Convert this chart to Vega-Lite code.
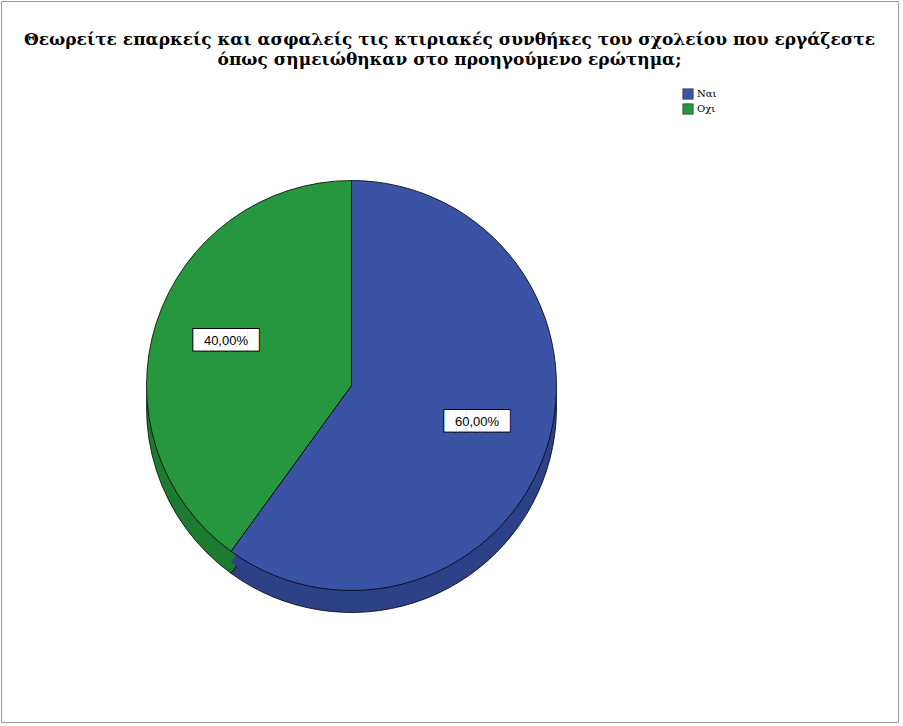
{
  "$schema": "https://vega.github.io/schema/vega-lite/v6.json",
  "autosize": {"type": "fit", "contains": "padding"},
  "width": 903,
  "height": 726,
  "padding": {"left": 1, "top": 1, "right": 5, "bottom": 4},
  "background": "white",
  "view": {"stroke": "#9a9a9a", "strokeWidth": 1, "fill": "white"},
  "config": {"view": {"stroke": "#9a9a9a", "strokeWidth": 1}},
  "title": {
    "text": ["Θεωρείτε επαρκείς και ασφαλείς τις κτιριακές συνθήκες του σχολείου που εργάζεστε", "όπως σημειώθηκαν στο προηγούμενο ερώτημα;"],
    "font": "DejaVu Serif",
    "fontSize": 17,
    "fontWeight": "bold",
    "color": "black",
    "anchor": "middle",
    "frame": "group",
    "lineHeight": 20,
    "offset": -68
  },
  "data": {
    "values": [
      {"category": "Ναι", "ord": 1, "value": 60, "label": "60,00%", "box": "██████"},
      {"category": "Οχι", "ord": 2, "value": 40, "label": "40,00%", "box": "██████"}
    ]
  },
  "encoding": {
    "theta": {"field": "value", "type": "quantitative", "stack": true},
    "order": {"field": "ord", "type": "quantitative"}
  },
  "layer": [
    {
      "mark": {"type": "arc", "outerRadius": 205, "xOffset": -98, "yOffset": 46, "stroke": "black", "strokeWidth": 0.8},
      "encoding": {
        "fill": {"field": "category", "type": "nominal", "scale": {"domain": ["Ναι", "Οχι"], "range": ["#2c4188", "#1c7a31"]}, "legend": null}
      }
    },
    {
      "mark": {"type": "arc", "outerRadius": 205, "xOffset": -98, "yOffset": 35},
      "encoding": {
        "fill": {"field": "category", "type": "nominal", "scale": {"domain": ["Ναι", "Οχι"], "range": ["#2c4188", "#1c7a31"]}, "legend": null}
      }
    },
    {
      "mark": {"type": "arc", "outerRadius": 205, "xOffset": -98, "yOffset": 24, "stroke": "black", "strokeWidth": 0.8},
      "encoding": {
        "color": {
          "field": "category", "type": "nominal",
          "scale": {"domain": ["Ναι", "Οχι"], "range": ["#3a53a4", "#26963f"]},
          "legend": {
            "title": null, "orient": "none", "legendX": 681, "legendY": 87,
            "symbolType": "square", "symbolSize": 110, "symbolStrokeColor": "#333", "symbolStrokeWidth": 0.6,
            "labelFont": "DejaVu Serif", "labelFontSize": 10, "labelColor": "black", "rowPadding": 1, "labelOffset": 3
          }
        }
      }
    },
    {
      "mark": {"type": "text", "radius": 132, "xOffset": -98, "yOffset": 20, "font": "DejaVu Sans Mono", "fontSize": 18, "fill": "white", "stroke": "black", "strokeWidth": 2, "baseline": "middle", "align": "center"},
      "encoding": {"text": {"field": "box"}}
    },
    {
      "mark": {"type": "text", "radius": 132, "xOffset": -98, "yOffset": 20, "font": "DejaVu Sans Mono", "fontSize": 18, "fill": "white", "baseline": "middle", "align": "center"},
      "encoding": {"text": {"field": "box"}}
    },
    {
      "mark": {"type": "text", "radius": 132, "xOffset": -98, "yOffset": 20, "font": "Liberation Sans", "fontSize": 13, "fill": "black", "baseline": "middle", "align": "center"},
      "encoding": {"text": {"field": "label"}}
    }
  ],
  "resolve": {"scale": {"fill": "independent"}}
}
